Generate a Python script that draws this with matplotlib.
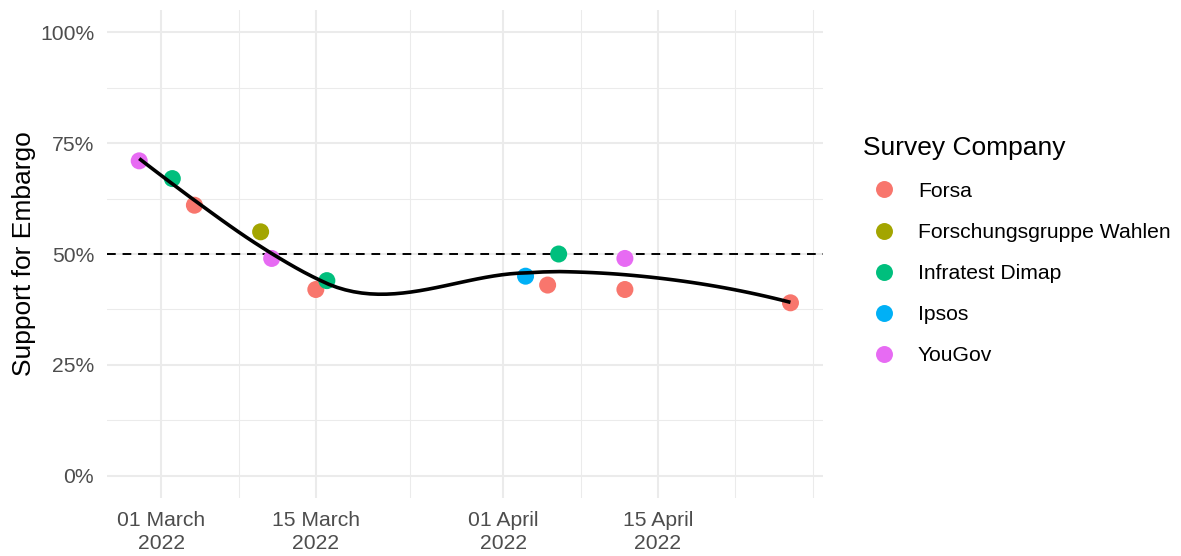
import matplotlib
matplotlib.use("Agg")
import matplotlib.pyplot as plt
import matplotlib.dates as mdates
import numpy as np
import pandas as pd
from matplotlib.lines import Line2D

plt.rcParams["font.family"] = ["Liberation Sans", "DejaVu Sans"]

# poll data
dates = ["2022-02-27", "2022-03-02", "2022-03-04", "2022-03-10", "2022-03-11",
         "2022-03-15", "2022-03-16", "2022-04-03", "2022-04-05", "2022-04-06",
         "2022-04-12", "2022-04-12", "2022-04-27"]
support = [0.71, 0.67, 0.61, 0.55, 0.49, 0.42, 0.44, 0.45, 0.43, 0.50, 0.49, 0.42, 0.39]
company = ["YouGov", "Infratest Dimap", "Forsa", "Forschungsgruppe Wahlen", "YouGov",
           "Forsa", "Infratest Dimap", "Ipsos", "Forsa", "Infratest Dimap",
           "YouGov", "Forsa", "Forsa"]

companies = ["Forsa", "Forschungsgruppe Wahlen", "Infratest Dimap", "Ipsos", "YouGov"]
palette = ["#F8766D", "#A3A500", "#00BF7D", "#00B0F6", "#E76BF3"]

major_dates = ["2022-03-01", "2022-03-15", "2022-04-01", "2022-04-15"]
major_labels = ["01 March\n2022", "15 March\n2022", "01 April\n2022", "15 April\n2022"]
minor_dates = ["2022-03-08", "2022-03-23 12:00", "2022-04-08", "2022-04-22", "2022-04-29"]
y_major = [0, 0.25, 0.5, 0.75, 1.0]
y_minor = [0.125, 0.375, 0.625, 0.875]

GRID = "#EBEBEB"
TEXT = "#4D4D4D"


def local_fit(x, y, x0, q):
    # local quadratic with tricube weights -> value and slope at x0
    d = np.abs(x - x0)
    h = np.sort(d)[q - 1]
    w = np.clip(1 - (d / h) ** 3, 0, None) ** 3
    X = np.column_stack([np.ones(len(x)), x - x0, (x - x0) ** 2])
    W = np.diag(w)
    beta = np.linalg.solve(X.T @ W @ X, X.T @ W @ y)
    return beta[0], beta[1]


def loess(x, y, x_new, span=0.75, cell=0.2):
    # mimics R loess(surface="interpolate"): kd vertices + cubic Hermite
    n = len(x)
    xs = np.sort(x)
    q = int(np.floor(n * span))
    fc = int(np.floor(n * span * cell))
    mu = 0.005 * (xs[-1] - xs[0])
    lo, hi = xs[0] - mu, xs[-1] + mu
    verts = {lo, hi}
    stack = [(0, n - 1, lo, hi)]
    while stack:
        l, u, a, b = stack.pop()
        if u - l + 1 <= fc:
            continue
        m = (l + u) // 2
        off = 0
        while l <= m + off < u:
            if xs[m + off] == xs[m + off + 1]:
                off = -off
                if off >= 0:
                    off += 1
            else:
                m = m + off
                break
        v = xs[m]
        if v == a or v == b:
            continue
        verts.add(v)
        stack.append((l, m, a, v))
        stack.append((m + 1, u, v, b))
    vx = np.array(sorted(verts))
    fits = np.array([local_fit(x, y, v, q) for v in vx])
    out = []
    for xx in x_new:
        i = min(np.searchsorted(vx, xx, side="right") - 1, len(vx) - 2)
        h = vx[i + 1] - vx[i]
        t = (xx - vx[i]) / h
        h00 = 2 * t**3 - 3 * t**2 + 1
        h10 = t**3 - 2 * t**2 + t
        h01 = -2 * t**3 + 3 * t**2
        h11 = t**3 - t**2
        out.append(h00 * fits[i, 0] + h10 * h * fits[i, 1]
                   + h01 * fits[i + 1, 0] + h11 * h * fits[i + 1, 1])
    return np.array(out)


xd = mdates.date2num(pd.to_datetime(dates))
ys = np.array(support)

fig = plt.figure(figsize=(11.81, 5.56), dpi=100)
ax = fig.add_axes([0.0903, 0.1043, 0.6066, 0.8777])

span = xd.max() - xd.min()
ax.set_xlim(xd.min() - 0.05 * span, xd.max() + 0.05 * span)
ax.set_ylim(-0.05, 1.05)

for d in minor_dates:
    ax.axvline(mdates.date2num(pd.Timestamp(d)), color=GRID, lw=0.75, zorder=0)
for v in y_minor:
    ax.axhline(v, color=GRID, lw=0.75, zorder=0)
for d in major_dates:
    ax.axvline(mdates.date2num(pd.Timestamp(d)), color=GRID, lw=1.5, zorder=0)
for v in y_major:
    ax.axhline(v, color=GRID, lw=1.5, zorder=0)

ax.axhline(0.5, color="black", lw=1.4, linestyle=(0, (4.5, 3.5)), zorder=1)

for c, col in zip(companies, palette):
    m = np.array([cc == c for cc in company])
    ax.scatter(xd[m], ys[m], s=150, color=col, edgecolors="none", zorder=2)

grid_x = np.linspace(xd.min(), xd.max(), 80)
ax.plot(grid_x, loess(xd, ys, grid_x), color="black", lw=2.6, zorder=3,
        solid_capstyle="butt")

ax.set_xticks([mdates.date2num(pd.Timestamp(d)) for d in major_dates])
ax.set_xticklabels(major_labels, linespacing=1.28)
ax.set_yticks(y_major)
ax.set_yticklabels([f"{int(v * 100)}%" for v in y_major])
ax.tick_params(axis="both", length=0, labelsize=15.2, colors=TEXT)
ax.tick_params(axis="x", pad=9.5)
ax.tick_params(axis="y", pad=9)
for s in ax.spines.values():
    s.set_visible(False)
ax.set_ylabel("Support for Embargo", fontsize=19, labelpad=3)

handles = [Line2D([], [], marker="o", linestyle="none", markersize=12.2,
                  markerfacecolor=col, markeredgecolor="none") for col in palette]
leg = ax.legend(handles, companies, title="Survey Company", loc="upper left",
                bbox_to_anchor=(0.7305, 0.756), bbox_transform=fig.transFigure,
                frameon=False, fontsize=15.2, title_fontsize=19,
                labelspacing=1.05, handletextpad=0.62, handlelength=2.0,
                alignment="left", borderpad=0, borderaxespad=0)
leg._legend_box.get_children()[0].sep = 0

fig.savefig("out.png", dpi=100)
